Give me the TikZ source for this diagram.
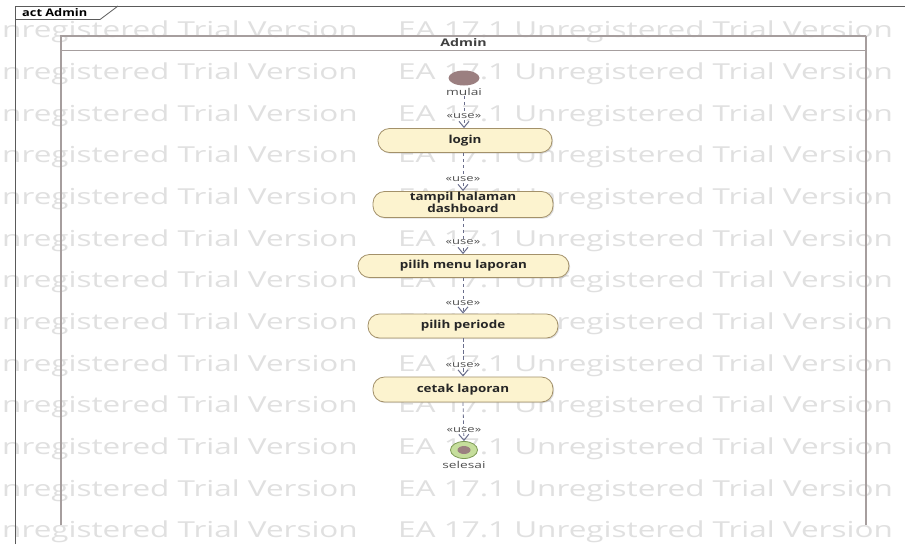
\documentclass[tikz,border=0pt]{standalone}
\usepackage{fontspec}
\usepackage{graphicx}
\setmainfont{Open Sans}
\newfontfamily\wmfont{Open Sans}
\usetikzlibrary{arrows.meta,shadows,shapes.geometric}
\newcommand{\wideA}[1]{\scalebox{1.22}[1]{#1}}
\newcommand{\wideL}[1]{\scalebox{1.45}[1]{#1}}
\newcommand{\wideW}[1]{\scalebox{1.43}[1]{#1}}
\definecolor{wmc}{HTML}{E0E0E0}
\definecolor{framec}{HTML}{5A5A5A}
\definecolor{partc}{HTML}{A69E9E}
\definecolor{actfill}{HTML}{FCF3CF}
\definecolor{actborder}{HTML}{A3916A}
\definecolor{flowc}{HTML}{6A6E8C}
\definecolor{lblc}{HTML}{505050}
\definecolor{initc}{HTML}{9B7F80}
\definecolor{finfill}{HTML}{C6DE9C}
\definecolor{finborder}{HTML}{7D9A55}
\begin{document}
\begin{tikzpicture}[x=1pt,y=-1pt,
  wm/.style={font=\wmfont\fontsize{22}{24}\selectfont, text=wmc, inner sep=0pt},
  act/.style={draw=actborder, fill=actfill, line width=0.8pt, rounded corners=11.5pt,
    minimum height=24pt, font=\bfseries\fontsize{11}{12}\selectfont, text=black!85, align=center, inner sep=1pt,
    drop shadow={shadow xshift=1.2pt, shadow yshift=-1.2pt, opacity=0.25}},
  flow/.style={draw=flowc, dash pattern=on 3.5pt off 2.5pt, line width=0.8pt,
    -{Straight Barb[length=6pt,width=10pt,line width=1pt]}},
  uselbl/.style={font=\fontsize{9}{9}\selectfont, text=lblc, fill=white, inner sep=0.6pt},
  nodelbl/.style={font=\fontsize{9.5}{10}\selectfont, text=lblc, inner sep=0.5pt},
]
\useasboundingbox (0,0) rectangle (905,544);
\fill[white] (0,0) rectangle (905,544);
\begin{scope}
\clip (0,0) rectangle (905,544);
% watermark
\foreach \k in {0,...,12}{
  \node[wm, anchor=mid east] (wa\k) at (358,{35+41.67*\k}) {\wideW{Unregistered Trial Version}};
  \node[wm, anchor=mid east] (wb\k) at (893,{35+41.67*\k}) {\wideW{EA 17.1 Unregistered Trial Version}};
}
% outer frame
\draw[framec, line width=1pt] (15,544) -- (15,6) -- (905,6);
\draw[framec, line width=0.8pt] (15,19.5) -- (100,19.5) -- (118,6);
\node[anchor=west, font=\bfseries\fontsize{10.5}{11}\selectfont, inner sep=0pt] (tab) at (22,13) {\scalebox{1.22}[1]{act Admin}};
% partition
\draw[partc, line width=1.2pt] (61,525) -- (61,36) -- (866,36);
\draw[partc, line width=1pt] (61,50) -- (866,50);
\draw[partc, line width=2pt] (866,35.5) -- (866,525);
\node[font=\bfseries\fontsize{10.5}{11}\selectfont, text=black!75, inner sep=0pt] (lane) at (463.5,43) {\scalebox{1.35}[1]{Admin}};
\end{scope}
% initial node
\node[ellipse, fill=initc, minimum width=31pt, minimum height=15pt, inner sep=0pt] (start) at (464,78) {};
\node[nodelbl] (mulai) at (464,91.5) {\wideL{mulai}};
% actions
\node[act, minimum width=174pt] (login) at (465,140.5) {\wideA{login}};
\node[act, minimum width=180pt, minimum height=25pt] (tampil) at (463,204.5) {\wideA{\begin{tabular}{@{}c@{}}tampil halaman\\dashboard\end{tabular}}};
\node[act, minimum width=211pt, minimum height=23pt] (menu) at (463.5,266) {\wideA{pilih menu laporan}};
\node[act, minimum width=190pt] (periode) at (463,326) {\wideA{pilih periode}};
\node[act, minimum width=180pt, minimum height=25pt] (cetak) at (463,389.5) {\wideA{cetak laporan}};
% final node
\node[ellipse, draw=finborder, fill=finfill, line width=0.8pt, minimum width=27pt, minimum height=17pt, inner sep=0pt] (final) at (464,450) {};
\node[ellipse, fill=initc, minimum width=13pt, minimum height=8pt, inner sep=0pt] (finaldot) at (final.center) {};
\node[nodelbl] (selesai) at (464,464.5) {\wideL{selesai}};
% flows
\draw[flow] (mulai.south) -- (mulai.south |- login.north) node[uselbl, at end, yshift=12pt] {\wideL{«use»}};
\draw[flow] (login.south -| tampil.north) -- (tampil.north) node[uselbl, at end, yshift=12pt] {\wideL{«use»}};
\draw[flow] (tampil.south) -- (menu.north -| tampil.south) node[uselbl, at end, yshift=12pt] {\wideL{«use»}};
\draw[flow] (menu.south -| periode.north) -- (periode.north) node[uselbl, at end, yshift=11pt] {\wideL{«use»}};
\draw[flow] (periode.south) -- (cetak.north) node[uselbl, at end, yshift=12pt] {\wideL{«use»}};
\draw[flow] (cetak.south) -- (final.north) node[uselbl, at end, yshift=11pt] {\wideL{«use»}};
\end{tikzpicture}
\end{document}
